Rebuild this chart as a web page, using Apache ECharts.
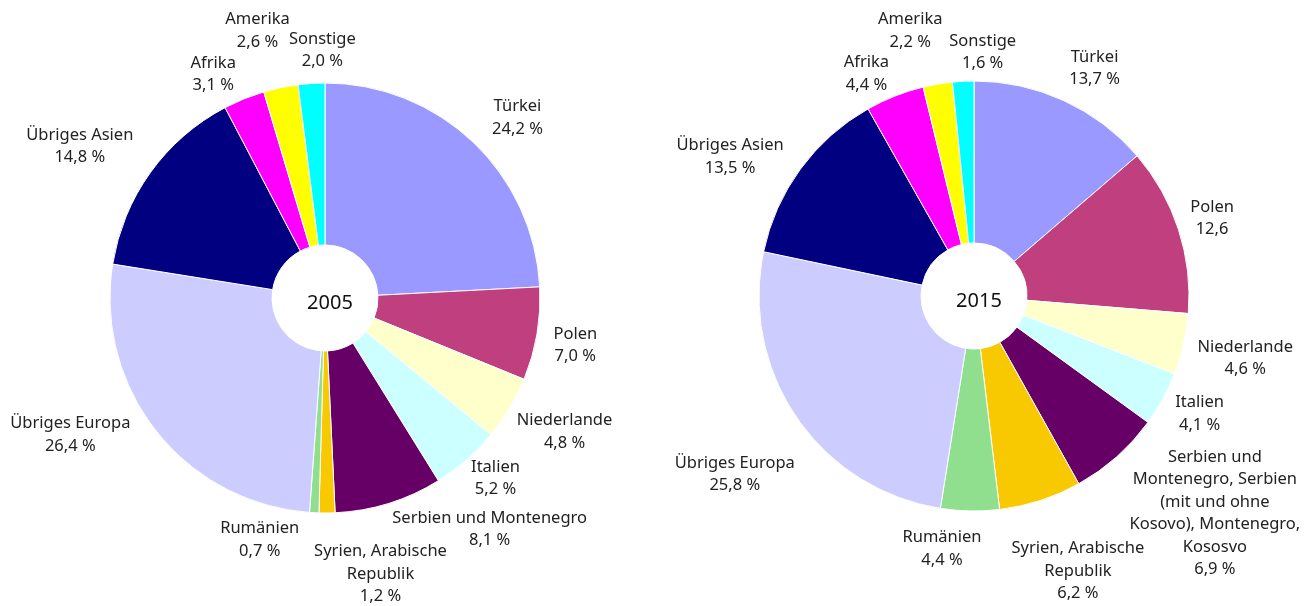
<!DOCTYPE html>
<html>
<head>
<meta charset="utf-8">
<script src="https://cdn.jsdelivr.net/npm/echarts@6/dist/echarts.min.js"></script>
<style>
    html, body { margin: 0; padding: 0; background: #fff; }
    #chart { width: 1316px; height: 606px; }
</style>
</head>
<body>
<div id="chart"></div>
<script>
// categories, clockwise from 12 o'clock
var names2005 = ['Türkei', 'Polen', 'Niederlande', 'Italien', 'Serbien und Montenegro',
    'Syrien, Arabische\nRepublik', 'Rumänien', 'Übriges Europa', 'Übriges Asien',
    'Afrika', 'Amerika', 'Sonstige'];
var names2015 = ['Türkei', 'Polen', 'Niederlande', 'Italien',
    'Serbien und\nMontenegro, Serbien\n(mit und ohne\nKosovo), Montenegro,\nKososvo',
    'Syrien, Arabische\nRepublik', 'Rumänien', 'Übriges Europa', 'Übriges Asien',
    'Afrika', 'Amerika', 'Sonstige'];

// shares in percent
var values2005 = [24.2, 7.0, 4.8, 5.2, 8.1, 1.2, 0.7, 26.4, 14.8, 3.1, 2.6, 2.0];
var values2015 = [13.7, 12.6, 4.6, 4.1, 6.9, 6.2, 4.4, 25.8, 13.5, 4.4, 2.2, 1.6];

// unit shown after the value (the 2015 Polen label has none)
var units2005 = [' %', ' %', ' %', ' %', ' %', ' %', ' %', ' %', ' %', ' %', ' %', ' %'];
var units2015 = [' %', '', ' %', ' %', ' %', ' %', ' %', ' %', ' %', ' %', ' %', ' %'];

var colors = ['#9999ff', '#c0407f', '#ffffcc', '#ccffff', '#660066', '#f8c800',
    '#8fdf8f', '#ccccff', '#000080', '#ff00ff', '#ffff00', '#00ffff'];

var years = ['2005', '2015'];

// small label nudges [dx, dy] so labels sit where the original put them
var nudge2005 = [[10, 12], [-11, 3], [12, -2], [-4, -19], [86, -22], [53, 11],
    [-52, -23], [-47, -28], [-30, 3], [-12, 22], [-13, -8], [14, 17]];
var nudge2015 = [[10, 13], [-14, 4], [13, 3], [-7, -9], [65, 19], [22, 23],
    [-27, -12], [-21, 28], [-30, 17], [-10, 24], [-19, -4], [22, 21]];

function buildData(names, values) {
    return values.map(function (v, i) {
        return { name: names[i], value: v, itemStyle: { color: colors[i] } };
    });
}

function fmt(units) {
    return function (p) {
        return p.name + '\n' + p.value.toFixed(1).replace('.', ',') + units[p.dataIndex];
    };
}

function pieSeries(names, values, units, nudge, center) {
    return {
        type: 'pie',
        center: center,
        radius: [53, 215],
        startAngle: 90,
        clockwise: true,
        avoidLabelOverlap: false,
        animation: false,
        silent: true,
        itemStyle: { borderColor: '#fff', borderWidth: 1 },
        label: {
            show: true,
            position: 'outside',
            formatter: fmt(units),
            fontFamily: 'Noto Sans',
            fontSize: 16.5,
            lineHeight: 22.5,
            color: '#222',
            align: 'center',
            distanceToLabelLine: 0
        },
        labelLine: { show: false, length: 50, length2: 0 },
        labelLayout: function (params) {
            var n = nudge[params.dataIndex];
            return {
                align: 'center',
                verticalAlign: 'middle',
                hideOverlap: false,
                moveOverlap: false,
                dx: n[0],
                dy: n[1]
            };
        },
        data: buildData(names, values)
    };
}

var chart = echarts.init(document.getElementById('chart'));

var option = {
    backgroundColor: '#fff',
    title: [
        { text: years[0], left: 325, top: 298, textAlign: 'center', textVerticalAlign: 'middle',
          textStyle: { fontFamily: 'Noto Sans', fontSize: 20, fontWeight: 'normal', color: '#111' } },
        { text: years[1], left: 974, top: 296, textAlign: 'center', textVerticalAlign: 'middle',
          textStyle: { fontFamily: 'Noto Sans', fontSize: 20, fontWeight: 'normal', color: '#111' } }
    ],
    series: [
        pieSeries(names2005, values2005, units2005, nudge2005, [325, 298]),
        pieSeries(names2015, values2015, units2015, nudge2015, [974, 296])
    ]
};

chart.setOption(option);
</script>
</body>
</html>
